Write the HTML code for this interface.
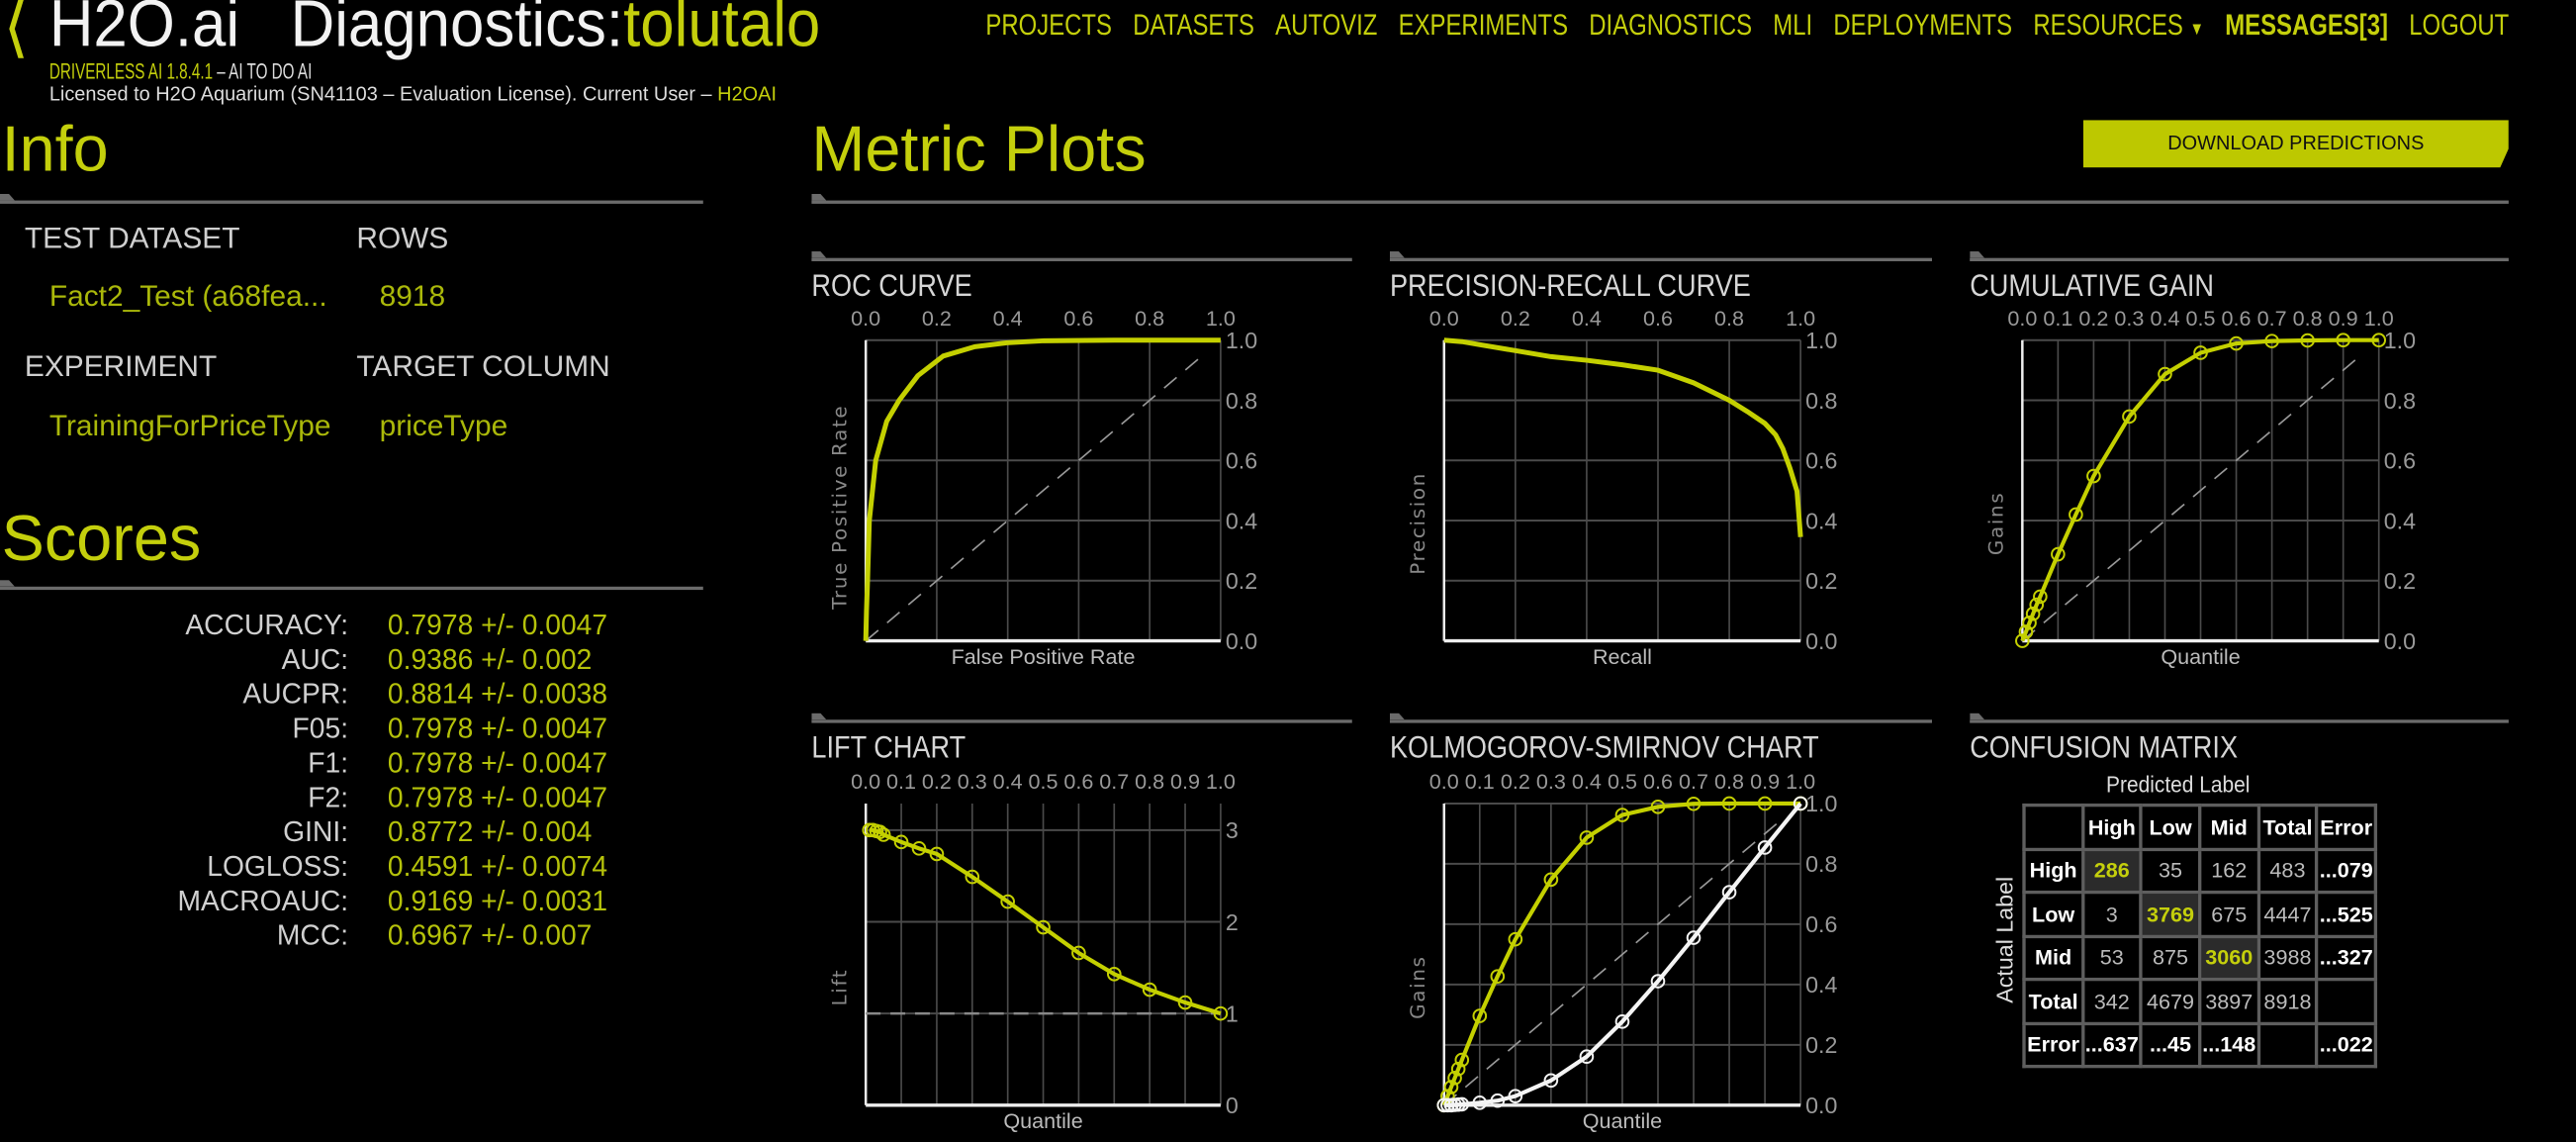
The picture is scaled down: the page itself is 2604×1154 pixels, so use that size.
<!DOCTYPE html>
<html><head><meta charset="utf-8">
<style>
html,body{margin:0;padding:0;background:#000;overflow:hidden;}
body{width:2604px;height:1154px;}
#stage{position:absolute;left:0;top:0;width:1568px;height:695px;transform-origin:0 0;transform:scale(1.66071,1.66043);font-family:"Liberation Sans Narrow","Liberation Sans",sans-serif;color:#ddd;}
.a{position:absolute;white-space:nowrap;transform-origin:0 0;}
.y{color:#c4cf0c;}
.ul{position:absolute;height:2px;background:#6b6b6b;}
.ul:before{content:"";position:absolute;left:0;top:-4px;width:9px;height:4px;background:#6b6b6b;clip-path:polygon(0 0,60% 0,100% 100%,0 100%);}
.lab{font-size:18px;color:#cfcfcf;}
.val{font-size:18px;color:#aab80a;}
.sc{position:absolute;font-size:17px;line-height:21px;}
.ttl{font-size:19px;color:#d6d6d6;transform:scaleX(0.86);}
#cm{position:absolute;left:1231px;top:489px;width:216px;table-layout:fixed;border-collapse:collapse;font-size:13px;}
#cm td{border:2px solid #5e5e5e;height:24.5px;text-align:center;padding:0;color:#bbb;overflow:hidden;white-space:nowrap;}
#cm td.h{color:#fff;font-weight:bold;}
#cm td.d{background:#2b2b2b;color:#c4cf0c;font-weight:bold;}
</style></head><body>
<div id="stage">
  <div class="a y" style="left:2px;top:-6px;font-size:40px;">&lang;</div>
  <div class="a" style="left:30px;top:-7px;font-size:40px;color:#f2f2f2;transform:scaleX(0.93);">H2O.ai&nbsp;&nbsp;&nbsp;Diagnostics:<span class="y">tolutalo</span></div>
  <div class="a y" style="left:30px;top:36px;font-size:13.5px;transform:scaleX(0.68);">DRIVERLESS AI 1.8.4.1 <span style="color:#ddd">– AI TO DO AI</span></div>
  <div class="a" style="left:30px;top:50px;font-size:12px;color:#ddd;">Licensed to H2O Aquarium (SN41103 – Evaluation License). Current User – <span class="y">H2OAI</span></div>
  <div class="a y" style="left:600px;top:5px;width:1159px;display:flex;justify-content:space-between;font-size:18px;transform:scaleX(0.8);">
    <span>PROJECTS</span>
    <span>DATASETS</span>
    <span>AUTOVIZ</span>
    <span>EXPERIMENTS</span>
    <span>DIAGNOSTICS</span>
    <span>MLI</span>
    <span>DEPLOYMENTS</span>
    <span>RESOURCES <span style="font-size:11px">▼</span></span>
    <span style="font-weight:bold">MESSAGES[3]</span>
    <span>LOGOUT</span>
  </div>

  <div class="a y" style="left:1px;top:70px;font-size:39px;">Info</div>
  <div class="ul" style="left:0;top:122px;width:428px;"></div>
  <div class="a y" style="left:494px;top:70px;font-size:39px;">Metric Plots</div>
  <div class="ul" style="left:494px;top:122px;width:1033px;"></div>
  <div class="a" style="left:1268px;top:73px;width:259px;height:29px;background:#bdc800;color:#111;font-size:12px;line-height:29px;text-align:center;clip-path:polygon(0 0,100% 0,100% 60%,98% 100%,0 100%);">DOWNLOAD PREDICTIONS</div>

  <div class="a lab" style="left:15px;top:135px;">TEST DATASET</div>
  <div class="a lab" style="left:217px;top:135px;">ROWS</div>
  <div class="a val" style="left:30px;top:170px;">Fact2_Test (a68fea...</div>
  <div class="a val" style="left:231px;top:170px;">8918</div>
  <div class="a lab" style="left:15px;top:213px;">EXPERIMENT</div>
  <div class="a lab" style="left:217px;top:213px;">TARGET COLUMN</div>
  <div class="a val" style="left:30px;top:249px;">TrainingForPriceType</div>
  <div class="a val" style="left:231px;top:249px;">priceType</div>

  <div class="a y" style="left:1px;top:307px;font-size:39px;">Scores</div>
  <div class="ul" style="left:0;top:357px;width:428px;"></div>
  <div class="sc" style="left:60px;top:370px;width:152px;text-align:right;color:#d0d0d0;">ACCURACY:<br>AUC:<br>AUCPR:<br>F05:<br>F1:<br>F2:<br>GINI:<br>LOGLOSS:<br>MACROAUC:<br>MCC:</div>
  <div class="sc y" style="left:236px;top:370px;color:#b5c20a;">0.7978 +/- 0.0047<br>0.9386 +/- 0.002<br>0.8814 +/- 0.0038<br>0.7978 +/- 0.0047<br>0.7978 +/- 0.0047<br>0.7978 +/- 0.0047<br>0.8772 +/- 0.004<br>0.4591 +/- 0.0074<br>0.9169 +/- 0.0031<br>0.6967 +/- 0.007</div>

  <div class="ul" style="left:494px;top:157px;width:329px;"></div>
  <div class="ul" style="left:846px;top:157px;width:330px;"></div>
  <div class="ul" style="left:1199px;top:157px;width:328px;"></div>
  <div class="ul" style="left:494px;top:438px;width:329px;"></div>
  <div class="ul" style="left:846px;top:438px;width:330px;"></div>
  <div class="ul" style="left:1199px;top:438px;width:328px;"></div>
  <div class="a ttl" style="left:494px;top:164px;">ROC CURVE</div>
  <div class="a ttl" style="left:846px;top:164px;">PRECISION-RECALL CURVE</div>
  <div class="a ttl" style="left:1199px;top:164px;">CUMULATIVE GAIN</div>
  <div class="a ttl" style="left:494px;top:445px;">LIFT CHART</div>
  <div class="a ttl" style="left:846px;top:445px;">KOLMOGOROV-SMIRNOV CHART</div>
  <div class="a ttl" style="left:1199px;top:445px;">CONFUSION MATRIX</div>

  <div class="a" style="left:1282px;top:469px;font-size:14px;color:#ddd;transform:scaleX(0.9);">Predicted Label</div>
  <div class="a" style="left:1220px;top:572px;font-size:14px;color:#ddd;transform-origin:50% 50%;transform:translate(-50%,-50%) rotate(-90deg);">Actual Label</div>
  <table id="cm">
    <tr><td></td><td class="h">High</td><td class="h">Low</td><td class="h">Mid</td><td class="h">Total</td><td class="h">Error</td></tr>
    <tr><td class="h">High</td><td class="d">286</td><td>35</td><td>162</td><td>483</td><td class="h">...079</td></tr>
    <tr><td class="h">Low</td><td>3</td><td class="d">3769</td><td>675</td><td>4447</td><td class="h">...525</td></tr>
    <tr><td class="h">Mid</td><td>53</td><td>875</td><td class="d">3060</td><td>3988</td><td class="h">...327</td></tr>
    <tr><td class="h">Total</td><td>342</td><td>4679</td><td>3897</td><td>8918</td><td></td></tr>
    <tr><td class="h">Error</td><td class="h">...637</td><td class="h">...45</td><td class="h">...148</td><td></td><td class="h">...022</td></tr>
  </table>

  <svg id="charts" width="1568" height="695" style="position:absolute;left:0;top:0;"></svg>
</div>
<script>
const rocFpr = [0,0.002,0.005,0.01,0.028,0.059,0.094,0.147,0.218,0.307,0.396,0.503,0.7,1.0];
const rocTpr = [0,0.1,0.2,0.4,0.6,0.73,0.8,0.882,0.947,0.978,0.991,0.998,1.0,1.0];
const prRecall = [0,0.05,0.1,0.2,0.3,0.4,0.5,0.6,0.7,0.8,0.85,0.9,0.93,0.95,0.97,0.99,1.0];
const prPrecision = [1.0,0.995,0.985,0.965,0.945,0.933,0.918,0.9,0.858,0.8,0.763,0.723,0.685,0.64,0.575,0.498,0.345];
const gainQuantiles = [0,0.01,0.02,0.03,0.04,0.05,0.1,0.15,0.2,0.3,0.4,0.5,0.6,0.7,0.8,0.9,1.0];
const gainValues = [0,0.03,0.06,0.09,0.12,0.147,0.288,0.42,0.548,0.746,0.887,0.958,0.989,0.997,0.999,1.0,1.0];
const liftQuantiles = [0.01,0.02,0.03,0.04,0.05,0.1,0.15,0.2,0.3,0.4,0.5,0.6,0.7,0.8,0.9,1.0];
const liftValues = [3.0,3.0,2.99,2.98,2.95,2.87,2.8,2.74,2.49,2.22,1.94,1.66,1.43,1.26,1.12,1.0];
const ksQuantiles = [0,0.01,0.02,0.03,0.04,0.05,0.1,0.15,0.2,0.3,0.4,0.5,0.6,0.7,0.8,0.9,1.0];
const ksPositive = [0,0.03,0.06,0.09,0.12,0.15,0.296,0.427,0.55,0.748,0.887,0.962,0.989,0.999,1.0,1.0,1.0];
const ksNegative = [0,0.0,0.0,0.001,0.002,0.003,0.008,0.015,0.03,0.082,0.161,0.277,0.411,0.555,0.706,0.854,1.0];
const ticks02 = ["0.0","0.2","0.4","0.6","0.8","1.0"];
const ticks01 = ["0.0","0.1","0.2","0.3","0.4","0.5","0.6","0.7","0.8","0.9","1.0"];
const liftTicks = ["0","1","2","3"];

const NS = "http://www.w3.org/2000/svg";
const svg = document.getElementById('charts');
const YEL = "#c4d000";
function mk(tag, attrs, parent){
  const e = document.createElementNS(NS, tag);
  for (const k in attrs) e.setAttribute(k, attrs[k]);
  (parent||svg).appendChild(e);
  return e;
}
function chart(o){
  const g = mk('g', {});
  
  
  const sx = v => o.x0 + (v - o.xd[0]) / (o.xd[1] - o.xd[0]) * (o.x1 - o.x0);
  const sy = v => o.y1 - (v - o.yd[0]) / (o.yd[1] - o.yd[0]) * (o.y1 - o.y0);
  o.xt.forEach(t => {
    const v = parseFloat(t), X = sx(v);
    mk('line', {x1:X, x2:X, y1:o.y0, y2:o.y1, stroke:'#4a4a4a', 'stroke-width':1}, g);
    const tx = mk('text', {x:X, y:o.y0-9, fill:'#999', 'font-size':13, 'text-anchor':'middle', 'font-family':'Liberation Sans Narrow, Liberation Sans, sans-serif'}, g);
    tx.textContent = t;
    
    
  });
  o.yt.forEach(t => {
    const v = parseFloat(t), Y = sy(v);
    mk('line', {x1:o.x0, x2:o.x1, y1:Y, y2:Y, stroke:'#4a4a4a', 'stroke-width':1.2}, g);
    const tx = mk('text', {x:o.x1+3, y:Y+5, fill:'#999', 'font-size':14, 'font-family':'Liberation Sans Narrow, Liberation Sans, sans-serif'}, g);
    tx.textContent = t;
    
    
  });
  mk('line', {x1:o.x0, x2:o.x0, y1:o.y0, y2:o.y1, stroke:'#eee', 'stroke-width':1.5}, g);
  mk('line', {x1:o.x0, x2:o.x1, y1:o.y1, y2:o.y1, stroke:'#eee', 'stroke-width':2}, g);
  if (o.diag) mk('line', {x1:sx(0), y1:sy(0), x2:sx(0.95), y2:sy(0.95), stroke:'#999', 'stroke-width':1, 'stroke-dasharray':'10,7'}, g);
  if (o.hline !== undefined) mk('line', {x1:o.x0, x2:o.x1, y1:sy(o.hline), y2:sy(o.hline), stroke:'#888', 'stroke-width':1.5, 'stroke-dasharray':'9,6'}, g);
  const xt = mk('text', {x:(o.x0+o.x1)/2, y:o.y1+14, fill:'#bbb', 'font-size':13, 'text-anchor':'middle', 'font-family':'Liberation Sans Narrow, Liberation Sans, sans-serif'}, g);
  xt.textContent = o.xlab;
  
  
  const ycx = o.x0-12, ycy = (o.y0+o.y1)/2 + (o.ylabOff||0);
  const yt = mk('text', {x:ycx, y:ycy, fill:'#888', 'font-size':12, 'text-anchor':'middle', 'letter-spacing':'1', transform:'rotate(-90 '+ycx+' '+ycy+')', 'font-family':'DejaVu Sans, sans-serif'}, g);
  yt.textContent = o.ylab;
  
  
  o.series.forEach(s => {
    const d = s.xs.map((x,i) => (i?'L':'M') + sx(x).toFixed(2) + ',' + sy(s.ys[i]).toFixed(2)).join(' ');
    const p = mk('path', {d:d, fill:'none', stroke:s.color, 'stroke-width':s.w||2.5, 'stroke-linejoin':'round'}, g);
    
    
    if (s.dots) s.xs.forEach((x,i) => {
      const c = mk('circle', {cx:sx(x), cy:sy(s.ys[i]), r:3.8, fill:'none', stroke:s.color, 'stroke-width':1.2}, g);
      
      
    });
  });
}
chart({name:'roc-chart', x0:527, x1:743, y0:207, y1:390, xd:[0,1], yd:[0,1], xt:ticks02, yt:ticks02, diag:true, xlab:'False Positive Rate', ylab:'True Positive Rate', ylabOff:10,
  series:[{name:'roc-line', xs:rocFpr, ys:rocTpr, color:YEL, w:3}]});
chart({name:'pr-chart', x0:879, x1:1096, y0:207, y1:390, xd:[0,1], yd:[0,1], xt:ticks02, yt:ticks02, xlab:'Recall', ylab:'Precision', ylabOff:20,
  series:[{name:'pr-line', xs:prRecall, ys:prPrecision, color:YEL, w:3}]});
chart({name:'gain-chart', x0:1231, x1:1448, y0:207, y1:390, xd:[0,1], yd:[0,1], xt:ticks01, yt:ticks02, diag:true, xlab:'Quantile', ylab:'Gains', ylabOff:20,
  series:[{name:'gain-line', xs:gainQuantiles, ys:gainValues, color:YEL, dots:true}]});
chart({name:'lift-chart', x0:527, x1:743, y0:489, y1:672.6, xd:[0,1], yd:[0,3.29], xt:ticks01, yt:liftTicks, hline:1, xlab:'Quantile', ylab:'Lift', ylabOff:20,
  series:[{name:'lift-line', xs:liftQuantiles, ys:liftValues, color:YEL, dots:true}]});
chart({name:'ks-chart', x0:879, x1:1096, y0:489, y1:672.6, xd:[0,1], yd:[0,1], xt:ticks01, yt:ticks02, diag:true, xlab:'Quantile', ylab:'Gains', ylabOff:20,
  series:[{name:'ks-positive-line', xs:ksQuantiles, ys:ksPositive, color:YEL, dots:true},
          {name:'ks-negative-line', xs:ksQuantiles, ys:ksNegative, color:'#f4f4f4', dots:true}]});
</script>
</body></html>
